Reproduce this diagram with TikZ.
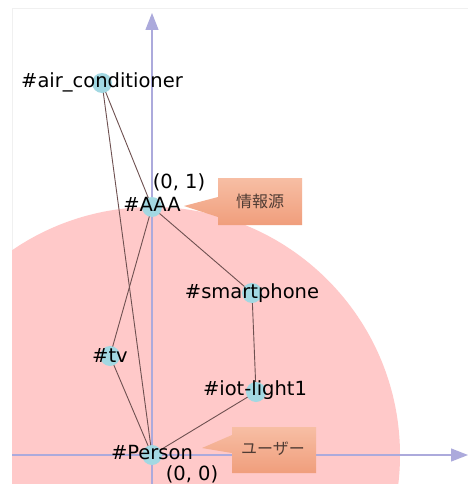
\documentclass[tikz,border=0pt]{standalone}
\usepackage{fontspec}
\setmainfont{DejaVu Sans}
\newfontfamily\jpfont{Noto Sans CJK JP}
\usetikzlibrary{arrows.meta}
\definecolor{pinkbg}{RGB}{255,201,201}
\definecolor{nodeblue}{RGB}{162,216,226}
\definecolor{axiscol}{RGB}{172,170,220}
\definecolor{edgecol}{RGB}{110,80,80}
\definecolor{calltop}{RGB}{247,190,164}
\definecolor{callbot}{RGB}{240,158,124}
\definecolor{calltext}{RGB}{80,60,52}
\tikzset{
  dot/.style={circle,fill=nodeblue,inner sep=0pt,minimum size=20pt},
  lbl/.style={font=\fontsize{19.5}{20}\selectfont,text=black,inner sep=0pt},
  coord/.style={font=\fontsize{19.5}{20}\selectfont,text=black,inner sep=0pt},
  edge/.style={draw=edgecol,line width=0.9pt},
  axis/.style={draw=axiscol,line width=1.2pt,-{Triangle[length=17pt,width=13pt]}},
  calltxt/.style={font=\jpfont\fontsize{16}{16}\selectfont,text=calltext,inner sep=0pt},
}
\begin{document}
\begin{tikzpicture}[x=1pt,y=-1pt]
\useasboundingbox (0,0) rectangle (468,484);
\fill[white] (0,0) rectangle (468,484);
% panel frame
\draw[black!6,line width=0.8pt] (12,484) -- (12,8) -- (468,8);
% pink disc
\begin{scope}
\clip (12,8) rectangle (468,484);
\fill[pinkbg] (152,455) circle (248);
\end{scope}
% axes
\coordinate (xs) at (12,455);
\coordinate (xe) at (468,455);
\coordinate (ys) at (152,484);
\coordinate (ye) at (152,13);
\draw[axis] (xs) -- (xe);
\draw[axis] (ys) -- (ye);
% node positions
\coordinate (ac) at (102,83);
\coordinate (aaa) at (152,207);
\coordinate (sp) at (252,293);
\coordinate (tv) at (110,356);
\coordinate (iot) at (256,392);
\coordinate (per) at (152,455);
% edges
\draw[edge] (ac) -- (aaa);
\draw[edge] (ac) -- (per);
\draw[edge] (aaa) -- (tv);
\draw[edge] (aaa) -- (sp);
\draw[edge] (tv) -- (per);
\draw[edge] (sp) -- (iot);
\draw[edge] (iot) -- (per);
% dots
\node[dot] (nac) at (ac) {};
\node[dot] (naaa) at (aaa) {};
\node[dot] (nsp) at (sp) {};
\node[dot] (ntv) at (tv) {};
\node[dot] (niot) at (iot) {};
\node[dot] (nper) at (per) {};
% labels
\node[lbl] (lac) at (102,82) {\#air\_conditioner};
\node[lbl] (laaa) at (152,204) {\#AAA};
\node[lbl] (lsp) at (252,293) {\#smartphone};
\node[lbl] (ltv) at (110,355) {\#tv};
\node[lbl] (liot) at (255,390) {\#iot-light1};
\node[lbl] (lper) at (152,453) {\#Person};
\node[coord] (c01) at (179,182) {(0, 1)};
\node[coord] (c00) at (192,474) {(0, 0)};
% callouts
\shade[top color=calltop,bottom color=callbot]
  (218,178) -- (302,178) -- (302,225) -- (218,225) -- (218,217) -- (184,206) -- (218,197) -- cycle;
\node[calltxt] (src) at (260,201) {情報源};
\shade[top color=calltop,bottom color=callbot]
  (232,427) -- (316,427) -- (316,473) -- (232,473) -- (232,453) -- (202,448) -- (232,435) -- cycle;
\node[calltxt] (usr) at (273,449) {ユーザー};
\end{tikzpicture}
\end{document}
